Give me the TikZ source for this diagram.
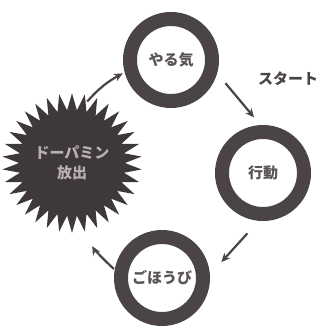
\documentclass[tikz,border=0pt]{standalone}
\usepackage{fontspec}
\newfontfamily\jpfont{Noto Sans CJK JP}
\usepackage{tikz}
\usetikzlibrary{shapes.geometric, arrows.meta}
\usepackage{xcolor}
\definecolor{ringgray}{HTML}{4A4444}
\definecolor{burstgray}{HTML}{3E3838}
\definecolor{labelgray}{HTML}{5A5353}
\definecolor{bursttext}{HTML}{B8B0B0}

\begin{document}
\begin{tikzpicture}[x=1pt, y=-1pt,
    ring/.style = {circle, draw=ringgray, line width=14pt, fill=white, minimum size=82pt, inner sep=0pt, font=\jpfont\bfseries\fontsize{15}{17}\selectfont, text=labelgray},
    burst/.style = {star, star points=34, star point ratio=1.32, fill=burstgray, minimum size=124pt, inner sep=0pt, align=center, font=\jpfont\bfseries\fontsize{15}{20}\selectfont, text=bursttext},
    note/.style = {font=\jpfont\bfseries\fontsize{15}{17}\selectfont, text=ringgray, inner sep=1pt},
    arrow/.style = {draw=ringgray, -{Stealth[length=9pt, width=8pt]}, line width=2.2pt}
]
\useasboundingbox (0,0) rectangle (322,336);

% Cycle nodes
\node (yaruki) [ring, at={(171, 60)}] {やる気};
\node (koudou) [ring, at={(263, 173)}] {行動};
\node (gohoubi) [ring, at={(162, 278)}] {ごほうび};
\node (dopamine) [burst, at={(72, 163)}] {ドーパミン\\放出};

% Start label
\node (start) [note, at={(288, 79)}] {スタート};

% Cycle connections
\draw [arrow, shorten <=2pt, shorten >=2pt] (dopamine.77) to[bend left=10] (yaruki.195);
\draw [arrow, shorten <=13pt, shorten >=10pt] (yaruki.-16) -- (koudou.93);
\draw [arrow, shorten <=17pt, shorten >=17pt] (koudou.265) -- (gohoubi.4);
\draw [arrow, shorten <=1pt, shorten >=18pt] (gohoubi.170) to[bend left=10] (dopamine.280);

\end{tikzpicture}
\end{document}
